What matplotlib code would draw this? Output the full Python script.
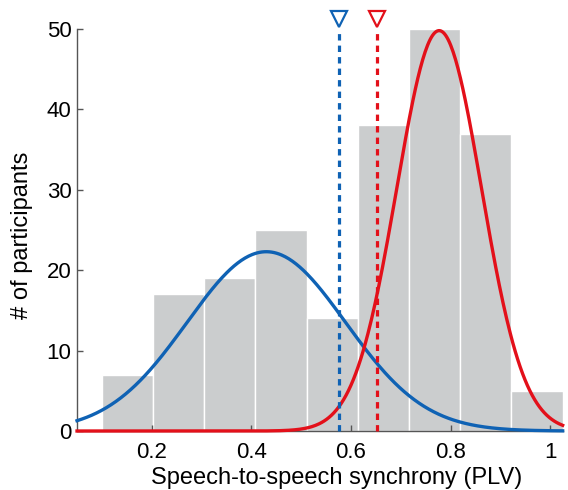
import numpy as np
import matplotlib
matplotlib.use("Agg")
import matplotlib.pyplot as plt

plt.rcParams['font.family'] = ['Liberation Sans', 'DejaVu Sans']

# histogram (bin edges and counts)
bin_edges = [0.100, 0.203, 0.305, 0.408, 0.511, 0.614, 0.717, 0.819, 0.922, 1.025]
counts = [7, 17, 19, 25, 14, 38, 50, 37, 5]

# fitted gaussian curves: (peak height, mean, sd)
blue_fit = (22.3, 0.430, 0.159)
red_fit = (49.8, 0.777, 0.085)

# group means marked with dashed lines
blue_mean = 0.576
red_mean = 0.652

xticks = [0.2, 0.4, 0.6, 0.8, 1.0]
xtick_labels = ["0.2", "0.4", "0.6", "0.8", "1"]
yticks = [0, 10, 20, 30, 40, 50]

BLUE = "#0f62b4"
RED = "#e3101a"
GREY = "#cbcdce"

fig = plt.figure(figsize=(5.68, 4.9), dpi=100)
ax = fig.add_axes([0.1356, 0.1204, 0.855, 0.8204])

edges = np.array(bin_edges)
ax.bar(edges[:-1], counts, width=np.diff(edges), align="edge",
       color=GREY, edgecolor="white", linewidth=1.0, zorder=1)

xs = np.linspace(0.05, 1.025, 400)
for (h, mu, sd), col in [(blue_fit, BLUE), (red_fit, RED)]:
    ys = h * np.exp(-(xs - mu) ** 2 / (2 * sd ** 2))
    ax.plot(xs, ys, color=col, lw=2.4, zorder=3, clip_on=False)

for m, col in [(blue_mean, BLUE), (red_mean, RED)]:
    ax.plot([m, m], [0, 50], color=col, lw=2.3, dashes=(2.0, 1.6), zorder=4,
            clip_on=False)
    ax.plot([m], [51.3], marker="v", ms=11, mfc="white", mec=col, mew=1.6,
            zorder=5, clip_on=False)

ax.set_xlim(0.05, 1.025)
ax.set_ylim(0, 50)
ax.set_xticks(xticks)
ax.set_xticklabels(xtick_labels)
ax.set_yticks(yticks)
ax.tick_params(direction="in", length=4, width=1, color="#555555",
               labelsize=16, pad=4)
ax.tick_params(axis="x", pad=8)
for s in ["top", "right"]:
    ax.spines[s].set_visible(False)
for s in ["left", "bottom"]:
    ax.spines[s].set_color("#555555")
    ax.spines[s].set_linewidth(1.0)

ax.set_xlabel("Speech-to-speech synchrony (PLV)", fontsize=17)
ax.set_ylabel("# of participants", fontsize=17)
ax.xaxis.set_label_coords(0.535, -0.089)
ax.yaxis.set_label_coords(-0.09, 0.488)

fig.savefig("out.png", dpi=100)
